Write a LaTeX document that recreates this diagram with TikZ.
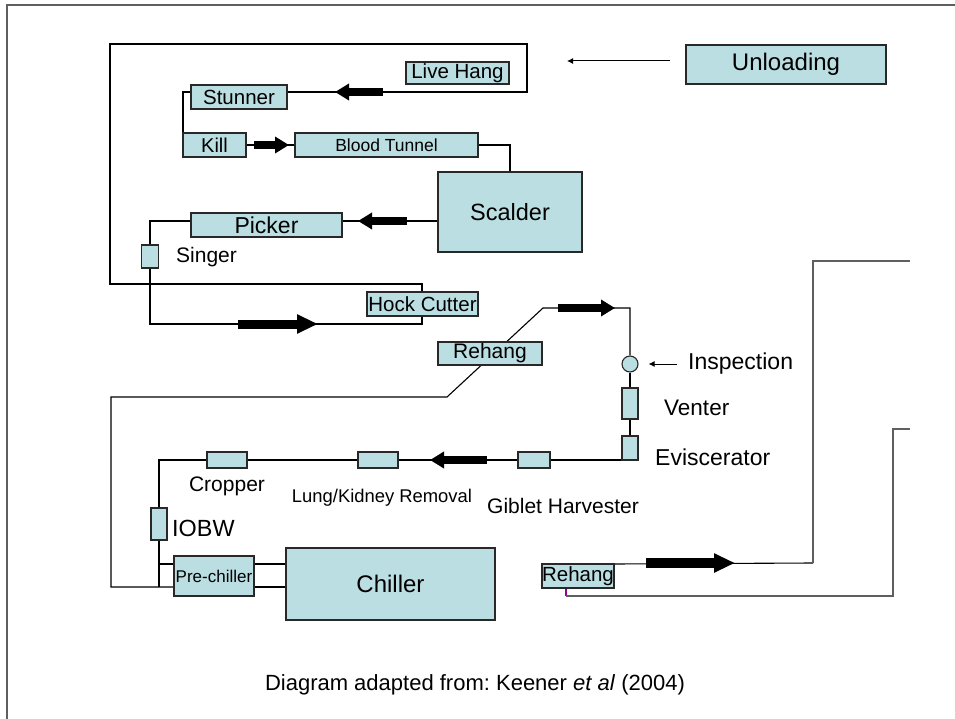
\documentclass[tikz,border=0pt]{standalone}
\usepackage{fontspec}
\setmainfont{Liberation Sans}
\usetikzlibrary{arrows.meta}
\pgfdeclarelayer{bg}
\pgfsetlayers{bg,main}
\definecolor{boxfill}{RGB}{186,222,225}
\definecolor{edge}{RGB}{40,40,40}
\definecolor{framegray}{RGB}{95,95,95}
\definecolor{magline}{RGB}{150,0,150}
\frenchspacing
\begin{document}
\begin{tikzpicture}[x=1pt,y=-1pt,
  fs/.style={font=\fontsize{#1}{#1}\selectfont},
  box/.style={draw=edge, fill=boxfill, line width=1.1pt, inner sep=0pt, outer sep=0pt, rectangle},
  wire/.style={draw=black, line width=1.1pt},
  graywire/.style={draw=framegray, line width=1.4pt},
  fat/.style={line width=8pt, -{Triangle[length=14pt,width=16pt]}},
  fatbig/.style={line width=9pt, -{Triangle[length=21pt,width=18pt]}},
  thinarrow/.style={line width=1pt, -{Latex[length=6pt,width=6pt]}},
  lbl/.style={inner sep=0pt}]
\useasboundingbox (0,0) rectangle (955,719);
% frame
\draw[graywire] (7,719) -- (7,5) -- (955,5);

% boxes
\node[box, minimum width=200pt, minimum height=39pt, fs=24] (unloading) at (786,64.5) {Unloading};
\node[box, minimum width=103pt, minimum height=22pt, fs=20.5] (livehang) at (457.5,73) {Live Hang};
\node[box, minimum width=96pt, minimum height=24pt, fs=20.5] (stunner) at (239,97) {Stunner};
\node[box, minimum width=63pt, minimum height=24pt, fs=20] (kill) at (214.5,145) {Kill};
\node[box, minimum width=183pt, minimum height=24pt, fs=17.5] (blood) at (386.5,145) {Blood Tunnel};
\node[box, minimum width=144pt, minimum height=80pt, fs=23.5] (scalder) at (510,212) {Scalder};
\node[box, minimum width=151pt, minimum height=24pt, fs=23] (picker) at (266.5,225) {Picker};
\node[box, minimum width=17pt, minimum height=23pt] (singer) at (150,256.5) {};
\node[box, minimum width=111pt, minimum height=24pt, fs=20.5] (hock) at (422.5,304) {Hock Cutter};
\node[box, minimum width=104pt, minimum height=23pt, fs=21] (rehangA) at (490,353.5) {Rehang};
\node[draw=edge, fill=boxfill, line width=1.1pt, circle, minimum size=16pt, inner sep=0pt] (insp) at (630,364) {};
\node[box, minimum width=16pt, minimum height=31pt] (venter) at (630,403.5) {};
\node[box, minimum width=16pt, minimum height=24pt] (evisc) at (630,448) {};
\node[box, minimum width=32pt, minimum height=16pt] (giblet) at (534,460) {};
\node[box, minimum width=40pt, minimum height=16pt] (lung) at (378,460) {};
\node[box, minimum width=40pt, minimum height=16pt] (cropper) at (227,460) {};
\node[box, minimum width=16pt, minimum height=32pt] (iobw) at (159,524) {};
\node[box, minimum width=80pt, minimum height=40pt, fs=17] (prechiller) at (214,576) {Pre-chiller};
\node[box, minimum width=209pt, minimum height=72pt, fs=24] (chiller) at (390.5,584) {Chiller};
\node[box, minimum width=72pt, minimum height=24pt, fs=20.5] (rehangB) at (578,576) {Rehang};

% labels
\node[lbl, fs=21, anchor=west] (singerl) at (176,257) {Singer};
\node[lbl, fs=23, anchor=west] (inspl) at (688,364) {Inspection};
\node[lbl, fs=22.5, anchor=west] (venterl) at (664,408) {Venter};
\node[lbl, fs=23, anchor=west] (eviscl) at (655,457) {Eviscerator};
\node[lbl, fs=21, anchor=west] (gibletl) at (487,506) {Giblet Harvester};
\node[lbl, fs=18.4] (lungl) at (382,498) {Lung/Kidney Removal};
\node[lbl, fs=21] (cropperl) at (227,486) {Cropper};
\node[lbl, fs=23.4, anchor=west] (iobwl) at (172,528) {IOBW};
\node[lbl, fs=22] (caption) at (475,685) {Diagram adapted from: Keener \textit{et al} (2004)};

% corner coordinates
\coordinate (rmid) at (527,92);
\coordinate (rtop) at (527,44);
\coordinate (ltop) at (110,44);
\coordinate (lbot) at (110,284);
\coordinate (ht) at (422,284);
\coordinate (hb) at (422,324);
\coordinate (sb) at (150,324);
\coordinate (pk) at ([yshift=4pt]picker.east);
\coordinate (pcbot) at (111,587);
\coordinate (rl) at (111,397);
\coordinate (ra) at (447,397);
\coordinate (rb) at (543,308);
\coordinate (rc) at (630,308);
\coordinate (jt) at (159,564);
\coordinate (jn) at (159,587);
\coordinate (pce1) at ([yshift=12pt]prechiller.east);
\coordinate (pce2) at ([yshift=-11pt]prechiller.east);
\coordinate (r1) at (813,563);
\coordinate (r2) at (813,261);
\coordinate (r3) at (910,261);
\coordinate (p0) at (566,588);
\coordinate (p1) at (566,596);
\coordinate (r4) at (893,596);
\coordinate (r5) at (893,429);
\coordinate (r6) at (910,429);

\begin{pgfonlayer}{bg}
\draw[wire] ([yshift=5pt]stunner.east) -- (rmid) -- (rtop) -- (ltop) -- (lbot) -- (ht) -- (hb) -- (sb) -- (singer.south);
\draw[wire] ([yshift=5pt]stunner.west) -| (kill.north west);
\draw[wire] (kill.east) -- (blood.west);
\draw[wire] (blood.east) -| (scalder.north);
\draw[wire] (pk) -- (pk -| scalder.west);
\draw[wire] ([yshift=4pt]picker.west) -| (singer.north);
\draw[wire] ([yshift=-11pt]prechiller.west) -- (pcbot) -- (rl) -- (ra) -- (rb) -- (rc) -- (insp.north);
\draw[wire] (insp.south) -- (venter.north);
\draw[wire] (venter.south) -- (evisc.north);
\draw[wire] (evisc.south west) -- (giblet.east);
\draw[wire] (giblet.west) -- (lung.east);
\draw[wire] (lung.west) -- (cropper.east);
\draw[wire] (cropper.west) -| (iobw.north);
\draw[wire] (iobw.south) -- (jt) -- (jn);
\draw[wire] (jt) -- ([yshift=12pt]prechiller.west);
\draw[wire] (pce1) -- (pce1 -| chiller.west);
\draw[wire] (pce2) -- (pce2 -| chiller.west);
\draw[wire] (rehangB.north east) -- (r1);
\draw[graywire] (r1) -- (r2) -- (r3);
\draw[line width=1.1pt, magline] (p0) -- (p1);
\draw[graywire] (p1) -- (r4) -- (r5) -- (r6);
\end{pgfonlayer}

% fat flow arrows
\coordinate (a1s) at (383,92);  \coordinate (a1e) at (335,92);
\coordinate (a2s) at (254,145); \coordinate (a2e) at (289,145);
\coordinate (a3s) at (407,221); \coordinate (a3e) at (358,221);
\coordinate (a4s) at (238,324); \coordinate (a4e) at (318,324);
\coordinate (a5s) at (558,308); \coordinate (a5e) at (615,308);
\coordinate (a6s) at (487,460); \coordinate (a6e) at (430,460);
\coordinate (a7s) at (646,563); \coordinate (a7e) at (735,563);
\draw[fat] (a1s) -- (a1e);
\draw[fat] (a2s) -- (a2e);
\draw[fat] (a3s) -- (a3e);
\draw[fatbig] (a4s) -- (a4e);
\draw[fat] (a5s) -- (a5e);
\draw[fat] (a6s) -- (a6e);
\draw[fatbig, line width=10pt] (a7s) -- (a7e);

% thin arrows
\coordinate (uend) at (567,61);
\draw[thinarrow] ([xshift=-16pt,yshift=3.5pt]unloading.west) -- (uend);
\draw[thinarrow] ([xshift=-11pt]inspl.west) -- ([xshift=10pt]insp.east);
\end{tikzpicture}
\end{document}
